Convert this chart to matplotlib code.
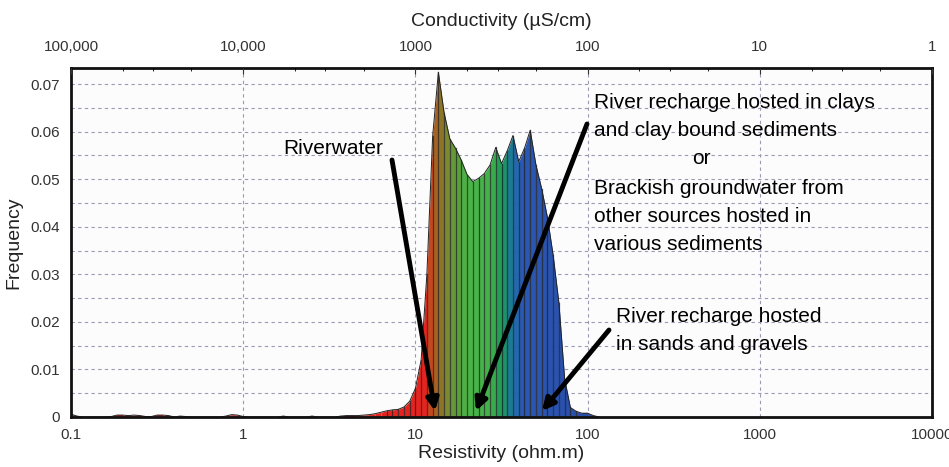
import numpy as np
import matplotlib.pyplot as plt
from matplotlib.colors import LinearSegmentedColormap

# histogram of resistivity, 30 bins per decade starting at 0.1 ohm.m
log_start = -1.0
bins_per_decade = 30
freq = [0.0006, 0.0002, 0.0, 0.0, 0.0, 0.0, 0.0, 0.0001, 0.0004, 0.0004,
        0.0003, 0.0004, 0.0003, 0.0001, 0.0001, 0.0004, 0.0004, 0.0003, 0.0, 0.0002,
        0.0001, 0.0, 0.0, 0.0, 0.0, 0.0, 0.0, 0.0002, 0.0005, 0.0004,
        0.0001, 0.0, 0.0, 0.0, 0.0, 0.0, 0.0, 0.0002, 0.0, 0.0,
        0.0, 0.0, 0.0002, 0.0, 0.0, 0.0, 0.0, 0.0002, 0.0003, 0.0003,
        0.0003, 0.0004, 0.0005, 0.0007, 0.0010, 0.0013, 0.0015, 0.0016, 0.0021, 0.0033,
        0.0060, 0.0120, 0.0300, 0.0590, 0.0725, 0.0640, 0.0585, 0.0565, 0.0540, 0.0510,
        0.0495, 0.0502, 0.0512, 0.0530, 0.0567, 0.0533, 0.0560, 0.0592, 0.0537, 0.0565,
        0.0603, 0.0530, 0.0480, 0.0420, 0.0340, 0.0240, 0.0080, 0.0020, 0.0012, 0.0008,
        0.0008, 0.0003, 0.0]

res_ticks = [0.1, 1, 10, 100, 1000, 10000]
res_labels = ['0.1', '1', '10', '100', '1000', '10000']
cond_labels = ['100,000', '10,000', '1000', '100', '10', '1']
freq_ticks = [0, 0.01, 0.02, 0.03, 0.04, 0.05, 0.06, 0.07]

plt.rcParams['font.family'] = ['Liberation Sans', 'DejaVu Sans']

# colour ramp along log10(resistivity): (log10 value, colour)
ramp = [(-1.0, '#e52420'), (1.075, '#e52420'), (1.10, '#b25a1e'), (1.15, '#8e7428'),
        (1.19, '#7a8a30'), (1.24, '#5c9e3c'), (1.30, '#4cb446'), (1.44, '#42b24a'),
        (1.49, '#22a055'), (1.53, '#1a8a78'), (1.57, '#1e70a8'), (1.62, '#2a58b2'),
        (2.1, '#2a4aa8')]
lo, hi = ramp[0][0], ramp[-1][0]
cmap = LinearSegmentedColormap.from_list('res', [((v - lo) / (hi - lo), c) for v, c in ramp])

fig = plt.figure(figsize=(9.49, 4.67), dpi=100)
ax = fig.add_axes([71 / 949, 1 - 417 / 467, 861 / 949, 349 / 467])
ax.set_facecolor('#fcfcfc')

log_edges = log_start + np.arange(len(freq)) / bins_per_decade
x = 10 ** log_edges
y = np.array(freq)

for i in range(len(x) - 1):
    mid = (log_edges[i] + log_edges[i + 1]) / 2
    ax.fill_between(x[i:i + 2], 0, y[i:i + 2], color=cmap((mid - lo) / (hi - lo)),
                    lw=0, zorder=2)
for i in range(len(x)):
    if y[i] > 0.001:
        ax.plot([x[i], x[i]], [0, y[i]], color='#1a1a1a', lw=0.9, alpha=0.7, zorder=3)
ax.plot(x, y, color='#222222', lw=0.7, zorder=4)

ax.set_xscale('log')
ax.set_xlim(0.1, 10000)
ax.set_ylim(0, 0.0734)
ax.set_xticks(res_ticks)
ax.set_xticklabels(res_labels)
ax.xaxis.set_minor_locator(plt.NullLocator())
ax.set_yticks(freq_ticks)
ax.set_yticklabels(['0'] + [f'{v:.2f}' for v in freq_ticks[1:]])
ax.set_yticks(np.arange(0.005, 0.0734, 0.01), minor=True)
ax.tick_params(axis='both', which='both', length=0, labelsize=11, colors='#333333', pad=8)
ax.grid(which='both', axis='y', ls=(0, (3, 3)), color='#9a9ab4', lw=0.8, zorder=1)
ax.grid(which='major', axis='x', ls=(0, (3, 3)), color='#9a9ab4', lw=0.8, zorder=1)
for s in ax.spines.values():
    s.set_linewidth(2)
    s.set_color('#111111')
    s.set_zorder(6)

ax.set_xlabel('Resistivity (ohm.m)', fontsize=14, color='#222222', labelpad=2)
ax.set_ylabel('Frequency', fontsize=14, color='#222222', labelpad=6)

ax2 = ax.twiny()
ax2.set_xscale('log')
ax2.set_xlim(ax.get_xlim())
ax2.set_xticks(res_ticks)
ax2.set_xticklabels(cond_labels)
ax2.tick_params(axis='x', which='major', length=4, direction='in', labelsize=11,
                colors='#333333', pad=10)
ax2.tick_params(axis='x', which='minor', length=2, direction='in')
ax2.xaxis.set_minor_locator(plt.LogLocator(subs=(2, 3, 5)))
ax2.xaxis.set_minor_formatter(plt.NullFormatter())
ax2.set_xlabel('Conductivity (\u00b5S/cm)', fontsize=14, color='#222222', labelpad=10)
for s in ax2.spines.values():
    s.set_visible(False)


def af(px, py):
    return ((px - 71) / 861, (417 - py) / 349)


arrow = dict(arrowstyle='-|>,head_length=0.7,head_width=0.35', color='black', lw=3.5,
             shrinkA=0, shrinkB=0)
ax.annotate('', xy=af(435, 411), xytext=af(392, 160), xycoords='axes fraction',
            arrowprops=arrow, zorder=7)
ax.annotate('', xy=af(476, 411), xytext=af(587, 124), xycoords='axes fraction',
            arrowprops=arrow, zorder=7)
ax.annotate('', xy=af(542, 411), xytext=af(609, 330), xycoords='axes fraction',
            arrowprops=arrow, zorder=7)

ax.text(*af(283, 148), 'Riverwater', transform=ax.transAxes, fontsize=15, va='center', zorder=8)
block = ['River recharge hosted in clays', 'and clay bound sediments', '',
         'Brackish groundwater from', 'other sources hosted in', 'various sediments']
line_y = [103, 131, 159, 189, 217, 244]
for txt, py in zip(block, line_y):
    ax.text(*af(594, py), txt, transform=ax.transAxes, fontsize=15, va='center', zorder=8)
ax.text(*af(701, 159), 'or', transform=ax.transAxes, fontsize=15, va='center', ha='center', zorder=8)
ax.text(*af(616, 316), 'River recharge hosted', transform=ax.transAxes, fontsize=15, va='center', zorder=8)
ax.text(*af(616, 345), 'in sands and gravels', transform=ax.transAxes, fontsize=15, va='center', zorder=8)

fig.savefig('out.png', dpi=100)
